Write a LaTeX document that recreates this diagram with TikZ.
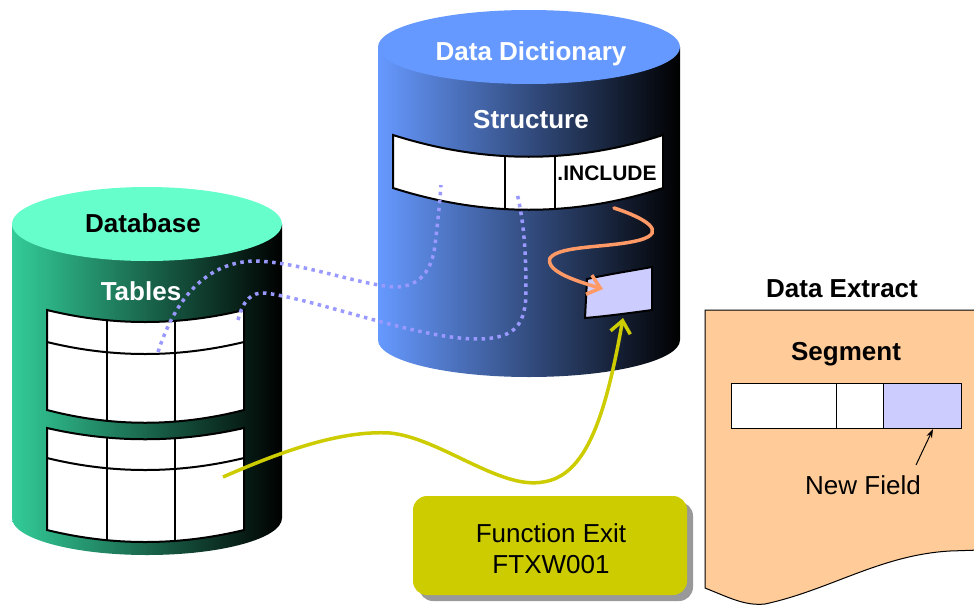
\documentclass[tikz,border=0pt]{standalone}
\usepackage{fontspec}
\setmainfont{Liberation Sans}
\usetikzlibrary{arrows.meta}
\definecolor{ddtop}{HTML}{6699FF}
\definecolor{dbtop}{HTML}{66FFCC}
\definecolor{dbside}{HTML}{33CC99}
\definecolor{lilac}{HTML}{CCCCFF}
\definecolor{dotblue}{HTML}{9999FF}
\definecolor{orangeln}{HTML}{FF9966}
\definecolor{olive}{HTML}{CCCC00}
\definecolor{pagefill}{HTML}{FFCC99}
\tikzset{
  bigbold/.style={font=\fontsize{26}{31}\selectfont\bfseries, anchor=base},
  bigreg/.style={font=\fontsize{26}{31}\selectfont, anchor=base},
  tableline/.style={draw=black, line width=2pt},
  dotline/.style={draw=dotblue, line width=3.5pt, dash pattern=on 3.5pt off 4.5pt},
}
\begin{document}
\begin{tikzpicture}[x=1pt,y=-1pt]
\useasboundingbox (0,0) rectangle (974,605);

% ---------- Database cylinder ----------
\shade[left color=dbside, middle color=dbside!35!black, right color=black]
  (12,224) -- (12,518) .. controls (12,538.4) and (72.4,555) .. (147,555)
  .. controls (221.6,555) and (282,538.4) .. (282,518) -- (282,224) -- cycle;
\fill[dbtop] (147,224) ellipse [x radius=135pt, y radius=37pt];
\node[bigbold] (dbt) at (143,232) {Database};
\node[bigbold, text=white] (tbl) at (141,300) {Tables};

% table 1
\begin{scope}
\clip (47,310) .. controls (112,326) and (178,326) .. (244,310) -- (244,410) .. controls (178,427) and (112,427) .. (47,410) -- cycle;
\fill[white] (40,300) rectangle (250,440);
\draw[tableline] (107,300) -- (107,440) (175,300) -- (175,440);
\draw[tableline] (47,342) .. controls (112,358) and (178,358) .. (244,342);
\end{scope}
\draw[tableline] (47,310) .. controls (112,326) and (178,326) .. (244,310) -- (244,410) .. controls (178,427) and (112,427) .. (47,410) -- cycle;

% table 2
\begin{scope}
\clip (47,428) .. controls (112,443) and (178,443) .. (244,428) -- (244,530) .. controls (178,546) and (112,546) .. (47,530) -- cycle;
\fill[white] (40,420) rectangle (250,560);
\draw[tableline] (107,420) -- (107,560) (175,420) -- (175,560);
\draw[tableline] (47,458) .. controls (112,474) and (178,474) .. (244,458);
\end{scope}
\draw[tableline] (47,428) .. controls (112,443) and (178,443) .. (244,428) -- (244,530) .. controls (178,546) and (112,546) .. (47,530) -- cycle;

% ---------- Data Dictionary cylinder ----------
\shade[left color=ddtop, middle color=ddtop!50!black, right color=black]
  (378,47) -- (378,340) .. controls (378,360.4) and (445.6,377) .. (529,377)
  .. controls (612.4,377) and (680,360.4) .. (680,340) -- (680,47) -- cycle;
\fill[ddtop] (529,47) ellipse [x radius=151pt, y radius=37pt];
\node[bigbold, text=white] (ddt) at (531,60) {Data Dictionary};
\node[bigbold, text=white] (str) at (531,128) {Structure};

% structure band
\begin{scope}
\clip (393,135) .. controls (484,164) and (574,164) .. (663,135) -- (663,188) .. controls (574,217) and (484,217) .. (393,188) -- cycle;
\fill[white] (385,125) rectangle (670,240);
\draw[tableline] (505,125) -- (505,240) (555,125) -- (555,240);
\end{scope}
\draw[tableline] (393,135) .. controls (484,164) and (574,164) .. (663,135) -- (663,188) .. controls (574,217) and (484,217) .. (393,188) -- cycle;
\node[font=\fontsize{21}{25}\selectfont\bfseries, anchor=base] (inc) at (607,180) {.INCLUDE};

% lilac new field box in DD
\filldraw[fill=lilac, draw=black, line width=2pt]
  (587,279) .. controls (610,274) and (630,271) .. (652,267) -- (652,310)
  .. controls (630,313) and (608,316) .. (585,318) -- cycle;

% ---------- Data Extract page ----------
\filldraw[fill=pagefill, draw=black, line width=1pt]
  (705,310) -- (980,310) -- (980,550) -- (950,551)
  .. controls (880,555) and (830,590) .. (765,604)
  .. controls (745,606) and (730,598) .. (705,588) -- cycle;
\node[bigbold] (dex) at (842,297) {Data Extract};
\node[bigbold] (seg) at (846,360) {Segment};
\draw[fill=white, line width=1pt] (731,383) rectangle (883,428);
\draw[fill=lilac, line width=1pt] (883,383) rectangle (961,428);
\draw[line width=1pt] (836,383) -- (836,428);
\coordinate (nfcell) at (933,429);
\coordinate (nfstart) at (916,465);
\node[bigreg] (nfl) at (863,494) {New Field};
\draw[line width=1pt, -{Stealth[length=9pt,width=6pt]}] (nfstart) -- (nfcell);

% ---------- Function Exit box ----------
\fill[gray!80, rounded corners=14pt] (419,502) rectangle (693,601);
\fill[olive, rounded corners=14pt] (413,496) rectangle (687,595);
\node[bigreg] (fe1) at (551,542) {Function Exit};
\node[bigreg] (fe2) at (551,573) {FTXW001};

% ---------- connectors ----------
\coordinate (d1a) at (158,352);
\coordinate (d1b) at (441,185);
\draw[dotline] (d1a) .. controls (175,300) and (205,262) .. (255,261)
  .. controls (300,262) and (360,285) .. (395,287)
  .. controls (420,287) and (432,270) .. (435,245)
  .. controls (438,220) and (440,200) .. (d1b);
\coordinate (d2a) at (238,320);
\coordinate (d2b) at (517,193);
\draw[dotline] (d2a) .. controls (243,300) and (252,292) .. (265,293)
  .. controls (320,300) and (420,340) .. (480,339)
  .. controls (515,338) and (526,325) .. (526,290)
  .. controls (526,240) and (522,215) .. (d2b);

\coordinate (ors) at (614,208);
\coordinate (ore) at (603,289);
\draw[orangeln, line width=3.5pt, line cap=round, -{Straight Barb[length=12pt,width=20pt]}]
  (ors) .. controls (645,218) and (668,232) .. (640,240)
  .. controls (610,248) and (560,245) .. (550,258)
  .. controls (545,272) and (580,282) .. (ore);

\coordinate (ys) at (223,477);
\coordinate (ye) at (623,318);
\draw[olive, line width=3.5pt, -{Straight Barb[length=12pt,width=20pt]}]
  (ys) .. controls (280,452) and (340,430) .. (390,433)
  .. controls (440,438) and (500,490) .. (543,482)
  .. controls (585,476) and (605,420) .. (ye);
\end{tikzpicture}
\end{document}
